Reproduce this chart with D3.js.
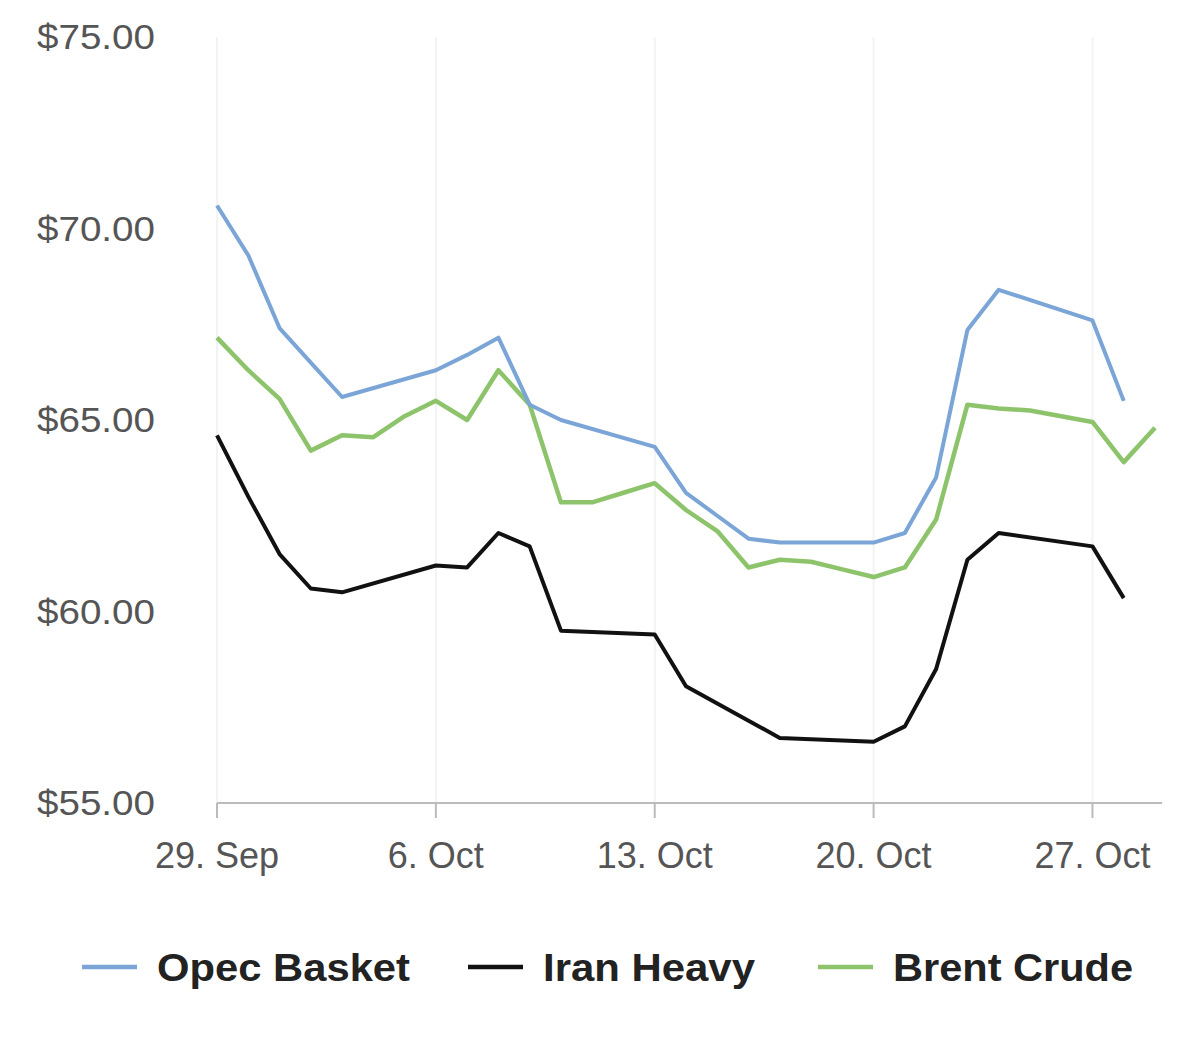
<!DOCTYPE html>
<html><head><meta charset="utf-8">
<script src="https://cdn.jsdelivr.net/npm/d3@7"></script>
<style>body{margin:0;background:#fff;font-family:"Liberation Sans",Arial,sans-serif;}</style>
</head><body><svg id="c" width="1200" height="1060"></svg>
<script>
const yTicks=[55,60,65,70,75];
const xTickDays=[0,7,14,21,28];
const xTickLabels=["29. Sep","6. Oct","13. Oct","20. Oct","27. Oct"];
const opecDays=[0,1,2,3,4,7,8,9,10,11,14,15,16,17,18,21,22,23,24,25,28,29];
const opecVals=[70.6,69.3,67.4,66.5,65.6,66.3,66.7,67.15,65.4,65.0,64.3,63.1,62.5,61.9,61.8,61.8,62.05,63.5,67.35,68.4,67.6,65.5];
const iranDays=[0,1,2,3,4,7,8,9,10,11,14,15,16,17,18,21,22,23,24,25,28,29];
const iranVals=[64.6,63.0,61.5,60.6,60.5,61.2,61.15,62.05,61.7,59.5,59.4,58.05,57.6,57.15,56.7,56.6,57.0,58.5,61.35,62.05,61.7,60.35];
const brentDays=d3.range(0,31);
const brentVals=[67.15,66.3,65.55,64.2,64.6,64.55,65.1,65.5,65.0,66.3,65.4,62.85,62.85,63.1,63.35,62.65,62.1,61.15,61.35,61.3,61.1,60.9,61.15,62.4,65.4,65.3,65.25,65.1,64.95,63.9,64.8];
const seriesNames=["Opec Basket","Iran Heavy","Brent Crude"];
const colors=["#7aa5d6","#111111","#8dc46b"];

const svg=d3.select("#c");
const x=d3.scaleLinear().domain([0,30]).range([217,1155]);
const y=d3.scaleLinear().domain([55,75]).range([803,37]);

svg.selectAll(".vg").data(xTickDays).enter().append("line")
 .attr("x1",d=>x(d)).attr("x2",d=>x(d)).attr("y1",37).attr("y2",803)
 .attr("stroke","#f3f3f3").attr("stroke-width",2);

svg.selectAll(".yl").data(yTicks).enter().append("text")
 .attr("x",155).attr("y",d=>y(d)+12).attr("text-anchor","end")
 .attr("font-size",35).attr("fill","#555").attr("textLength",118).attr("lengthAdjust","spacingAndGlyphs")
 .text(d=>"$"+d.toFixed(2));

svg.append("line").attr("x1",217).attr("x2",1162).attr("y1",803).attr("y2",803).attr("stroke","#bbb").attr("stroke-width",2);
svg.selectAll(".xt").data(xTickDays).enter().append("line")
 .attr("x1",d=>x(d)).attr("x2",d=>x(d)).attr("y1",803).attr("y2",818).attr("stroke","#bbb").attr("stroke-width",2);
svg.selectAll(".xl").data(xTickDays).enter().append("text")
 .attr("x",d=>x(d)).attr("y",868).attr("text-anchor","middle")
 .attr("font-size",36).attr("fill","#555").text((d,i)=>xTickLabels[i]);

const line=d3.line().x(d=>x(d[0])).y(d=>y(d[1]));
const series=[[opecDays,opecVals],[iranDays,iranVals],[brentDays,brentVals]];
[2,0,1].forEach(i=>{
 const pts=series[i][0].map((d,j)=>[d,series[i][1][j]]);
 svg.append("path").attr("d",line(pts)).attr("fill","none")
  .attr("stroke",colors[i]).attr("stroke-width",i==2?4.5:4).attr("stroke-linejoin","round");
});

const lx=[82,468,818];
const lw=[253,212,240];
seriesNames.forEach((n,i)=>{
 svg.append("line").attr("x1",lx[i]).attr("x2",lx[i]+55).attr("y1",967).attr("y2",967)
  .attr("stroke",colors[i]).attr("stroke-width",4.5);
 svg.append("text").attr("x",lx[i]+75).attr("y",981).attr("font-size",39).attr("font-weight","bold")
  .attr("fill","#222").attr("textLength",lw[i]).attr("lengthAdjust","spacingAndGlyphs").text(n);
});
</script></body></html>
